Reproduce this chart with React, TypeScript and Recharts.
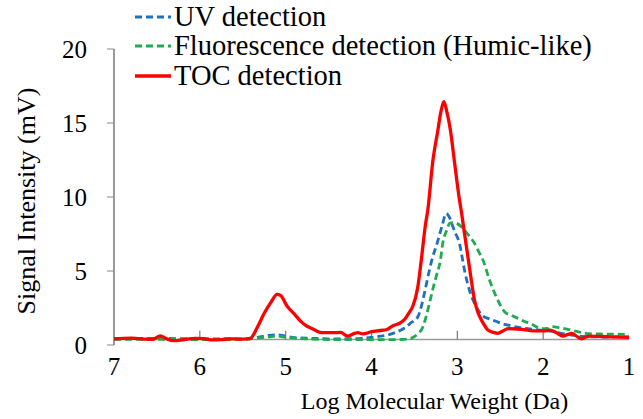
import React from "react"
import { LineChart, Line, XAxis, YAxis, Legend, ReferenceLine, Label } from "recharts"

// Log molecular weight (x) and signal (mV) for each detector
const uvMw = [7.0, 6.5, 6.0, 5.5, 5.35, 5.2, 5.1, 5.0, 4.9, 4.7, 4.5, 4.3, 4.12, 4.0, 3.9, 3.81, 3.72, 3.62, 3.54, 3.46, 3.42, 3.384, 3.325, 3.297, 3.236, 3.18, 3.13, 3.09, 3.052, 3.034, 2.975, 2.917, 2.86, 2.78, 2.7, 2.644, 2.55, 2.49, 2.41, 2.3, 2.2, 2.1, 2.0, 1.9, 1.8, 1.7, 1.55, 1.3, 1.0]
const uvSignal = [0.45, 0.45, 0.42, 0.42, 0.5, 0.65, 0.68, 0.6, 0.5, 0.45, 0.42, 0.42, 0.45, 0.52, 0.6, 0.68, 0.85, 1.13, 1.5, 1.91, 2.6, 3.49, 5.07, 5.74, 6.87, 8.0, 8.88, 8.6, 8.0, 7.7, 6.87, 5.07, 3.72, 2.59, 1.95, 1.8, 1.6, 1.46, 1.35, 1.2, 1.12, 1.05, 0.98, 0.92, 0.8, 0.7, 0.58, 0.54, 0.55]

const flMw = [7.0, 6.5, 6.0, 5.5, 5.35, 5.2, 5.1, 5.0, 4.85, 4.6, 4.3, 4.0, 3.8, 3.62, 3.54, 3.47, 3.4, 3.36, 3.325, 3.28, 3.247, 3.197, 3.17, 3.12, 3.09, 3.052, 3.0, 2.955, 2.88, 2.8, 2.75, 2.702, 2.625, 2.547, 2.45, 2.37, 2.294, 2.2, 2.14, 2.02, 1.95, 1.905, 1.8, 1.71, 1.6, 1.516, 1.4, 1.3, 1.0]
const flSignal = [0.38, 0.38, 0.36, 0.38, 0.45, 0.55, 0.6, 0.52, 0.45, 0.38, 0.36, 0.36, 0.36, 0.38, 0.45, 0.7, 1.24, 2.0, 2.82, 3.9, 4.61, 5.74, 6.87, 7.8, 8.22, 8.27, 8.2, 8.0, 7.5, 6.87, 6.3, 5.74, 4.39, 3.26, 2.25, 2.0, 1.8, 1.55, 1.42, 1.1, 1.12, 1.24, 1.15, 1.06, 0.9, 0.79, 0.75, 0.74, 0.72]

const tocMw = [7.0, 6.8, 6.65, 6.55, 6.46, 6.38, 6.3, 6.2, 6.05, 5.95, 5.85, 5.75, 5.65, 5.55, 5.45, 5.41, 5.33, 5.25, 5.17, 5.1, 5.06, 4.98, 4.9, 4.82, 4.76, 4.7, 4.64, 4.58, 4.45, 4.36, 4.28, 4.2, 4.16, 4.1, 4.0, 3.9, 3.82, 3.75, 3.68, 3.62, 3.56, 3.52, 3.46, 3.42, 3.372, 3.344, 3.286, 3.227, 3.19, 3.157, 3.12, 3.08, 3.034, 2.975, 2.95, 2.917, 2.86, 2.8, 2.76, 2.72, 2.68, 2.644, 2.58, 2.527, 2.47, 2.41, 2.3, 2.2, 2.1, 2.0, 1.92, 1.85, 1.77, 1.71, 1.67, 1.6, 1.554, 1.5, 1.45, 1.35, 1.2, 1.0]
const tocSignal = [0.42, 0.46, 0.4, 0.38, 0.62, 0.4, 0.29, 0.35, 0.45, 0.43, 0.34, 0.36, 0.42, 0.4, 0.42, 0.45, 1.2, 2.14, 2.9, 3.42, 3.35, 2.6, 2.1, 1.58, 1.3, 1.13, 0.95, 0.83, 0.83, 0.85, 0.6, 0.78, 0.83, 0.75, 0.9, 0.98, 1.05, 1.3, 1.45, 1.69, 2.2, 2.6, 3.94, 5.74, 8.1, 9.12, 12.4, 14.5, 15.8, 16.44, 15.7, 14.5, 12.4, 9.8, 8.9, 7.55, 5.29, 3.04, 2.2, 1.69, 1.3, 1.01, 0.85, 0.79, 0.95, 1.1, 1.08, 1.02, 0.95, 0.95, 1.0, 0.85, 0.6, 0.72, 0.79, 0.55, 0.42, 0.55, 0.6, 0.58, 0.55, 0.52]

const xTicks = [1, 2, 3, 4, 5, 6, 7]
const yTicks = [0, 5, 10, 15, 20]
const axisCross = 0.37

const zip = (xs: number[], ys: number[]) => xs.map((x, i) => ({ x, y: ys[i] }))

const FONT = "Liberation Serif"

const series = [
  { key: "uv", name: "UV detection", color: "#1f70c1", dash: "7 4", width: 2.8, data: zip(uvMw, uvSignal) },
  { key: "fl", name: "Fluorescence detection (Humic-like)", color: "#1fab50", dash: "7 4", width: 2.8, data: zip(flMw, flSignal) },
  { key: "toc", name: "TOC detection", color: "#ff0000", dash: undefined, width: 3.3, data: zip(tocMw, tocSignal) },
]

function LegendBox() {
  return (
    <div style={{ fontFamily: FONT, fontSize: 28.5, color: "#000" }}>
      {series.map((s) => (
        <div key={s.key} style={{ display: "flex", alignItems: "center", height: 29.5, whiteSpace: "nowrap" }}>
          <svg width={37} height={8}>
            <line x1={0} y1={4} x2={36} y2={4} stroke={s.color} strokeWidth={s.width} strokeDasharray={s.dash} />
          </svg>
          <span style={{ marginLeft: 2 }}>{s.name}</span>
        </div>
      ))}
    </div>
  )
}

const XTitle = (props: any) => {
  const vb = props.viewBox
  return (
    <text x={vb.x + vb.width / 2 + 63} y={vb.y + 64} textAnchor="middle" style={{ fontFamily: FONT }} fontSize={24} fill="#000">
      Log Molecular Weight (Da)
    </text>
  )
}

const YTitle = (props: any) => {
  const vb = props.viewBox
  const cx = vb.x + 26
  const cy = vb.y + vb.height / 2 + 4
  return (
    <text x={cx} y={cy} transform={`rotate(-90, ${cx}, ${cy})`} textAnchor="middle" dominantBaseline="central" style={{ fontFamily: FONT }} fontSize={26} fill="#000">
      Signal Intensity (mV)
    </text>
  )
}

const tickStyle = { fontSize: 25, fill: "#000", fontFamily: FONT }

export default function App() {
  return (
    <div style={{ position: "absolute", left: 0, top: 0, background: "#fff", fontFamily: FONT }}>
      <LineChart width={643} height={419} margin={{ top: 49, right: 14, left: 0, bottom: 0 }}>
        <XAxis
          dataKey="x"
          type="number"
          domain={[1, 7]}
          reversed
          ticks={xTicks}
          interval={0}
          axisLine={false}
          tickLine={false}
          tickSize={0}
          tickMargin={12}
          height={74}
          tick={tickStyle}
        >
          <Label content={XTitle} />
        </XAxis>
        <YAxis
          type="number"
          domain={[0, 20]}
          ticks={yTicks}
          interval={0}
          width={114}
          tickSize={7}
          tickMargin={20}
          axisLine={{ stroke: "#555", strokeWidth: 1.2 }}
          tickLine={{ stroke: "#888" }}
          tick={tickStyle}
        >
          <Label content={YTitle} />
        </YAxis>
        <ReferenceLine y={axisCross} stroke="#9a9a9a" strokeWidth={1.5} />
        {xTicks.slice(1, -1).map((t) => (
          <ReferenceLine
            key={t}
            segment={[{ x: t, y: axisCross }, { x: t, y: axisCross + 0.6 }]}
            stroke="#777"
            strokeWidth={1.2}
          />
        ))}
        {series.map((s) => (
          <Line
            key={s.key}
            data={s.data}
            dataKey="y"
            name={s.name}
            type="monotone"
            stroke={s.color}
            strokeWidth={s.width}
            strokeDasharray={s.dash}
            dot={false}
            activeDot={false}
            isAnimationActive={false}
          />
        ))}
        <Legend
          layout="vertical"
          align="center"
          verticalAlign="middle"
          content={() => <LegendBox />}
          wrapperStyle={{ left: 135, top: 2, width: "auto", height: "auto" }}
        />
      </LineChart>
    </div>
  )
}
